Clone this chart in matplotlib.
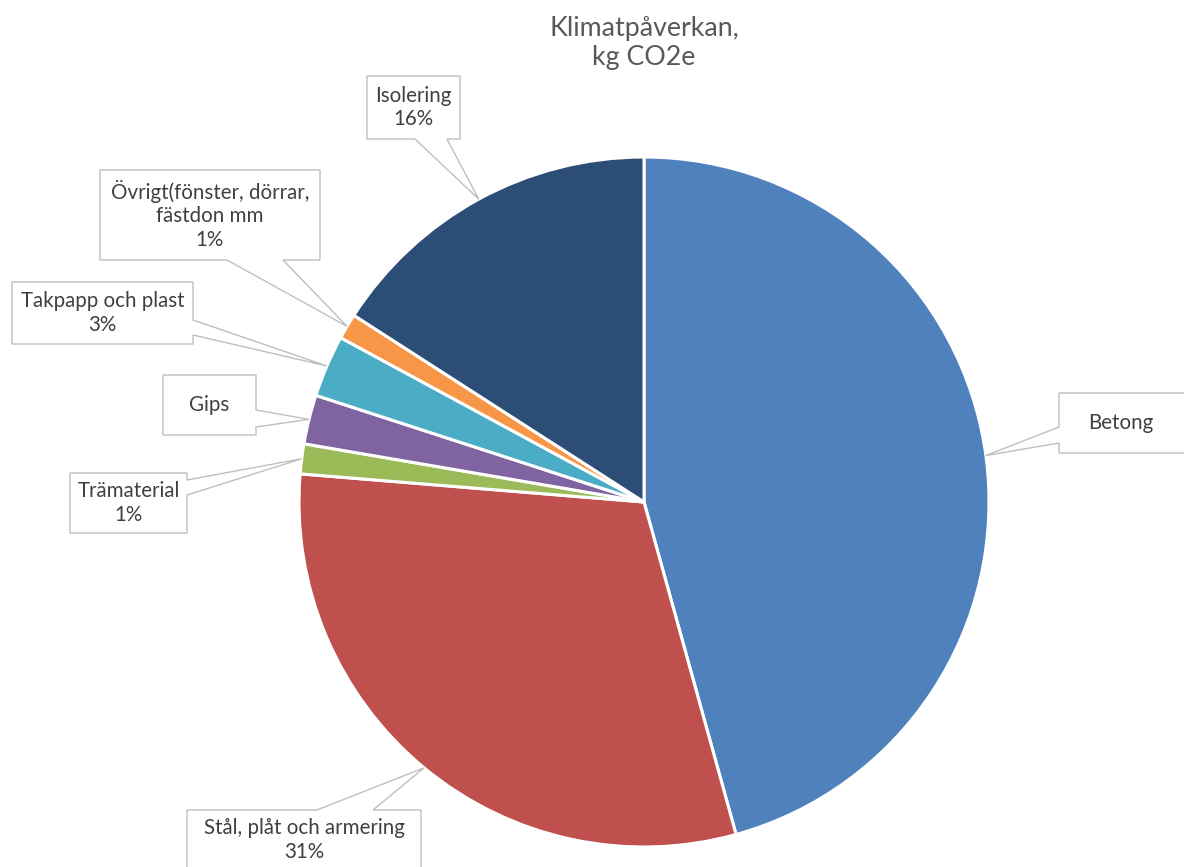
"""Cirkeldiagram över klimatpåverkan per materialgrupp (kg CO2e)."""

import matplotlib

matplotlib.use("Agg")
import matplotlib.pyplot as plt  # noqa: E402
import numpy as np  # noqa: E402
from matplotlib.patches import Polygon  # noqa: E402

plt.rcParams["font.family"] = ["Lato", "DejaVu Sans"]

# data, medurs från klockan tolv
MATERIALS = [
    "Betong",
    "Stål, plåt och armering",
    "Trämaterial",
    "Gips",
    "Takpapp och plast",
    "Övrigt(fönster, dörrar,\nfästdon mm",
    "Isolering",
]
SHARES = [45.7, 30.6, 1.4, 2.3, 2.9, 1.2, 15.9]
SHOW_PERCENT = [False, True, True, False, True, True, True]
COLORS = ["#4F81BD", "#C0504D", "#9BBB59", "#8064A2", "#4BACC6", "#F79646", "#2C4D75"]
TITLE = "Klimatpåverkan,\nkg CO2e"

# layout i pixlar (x0, y0, x1, y1), sida för pekaren och pekarens bas
CX, CY, R = 644.0, 502.0, 345.0
W, H = 1184, 867
BOXES = [
    ((1059, 393, 1240, 453), "left", (427, 443)),
    ((187, 810, 421, 900), "top", (317, 373)),
    ((70, 473, 187, 533), "right", (480, 495)),
    ((163, 375, 256, 435), "right", (410, 427)),
    ((12, 282, 193, 344), "right", (320, 335)),
    ((100, 170, 320, 260), "bottom", (227, 283)),
    ((367, 76, 460, 139), "bottom", (415, 447)),
]
TEXT_POS = [(1121, 423), (304, 840), None, None, None, None, None]


def to_data(px, py):
    return (px - CX) / R, (CY - py) / R


def callout_vertices(box, side, base, tip):
    x0, y0 = to_data(box[0], box[3])
    x1, y1 = to_data(box[2], box[1])
    if side in ("bottom", "top"):
        b_lo, b_hi = sorted(to_data(b, 0)[0] for b in base)
    else:
        b_lo, b_hi = sorted(to_data(0, b)[1] for b in base)
    verts = [(x0, y0)]
    if side == "bottom":
        verts += [(b_lo, y0), tip, (b_hi, y0)]
    verts.append((x1, y0))
    if side == "right":
        verts += [(x1, b_lo), tip, (x1, b_hi)]
    verts.append((x1, y1))
    if side == "top":
        verts += [(b_hi, y1), tip, (b_lo, y1)]
    verts.append((x0, y1))
    if side == "left":
        verts += [(x0, b_hi), tip, (x0, b_lo)]
    return verts


fig = plt.figure(figsize=(W / 100, H / 100), dpi=100)
ax = fig.add_axes([0, 0, 1, 1])

wedges, _ = ax.pie(
    SHARES,
    colors=COLORS,
    startangle=90,
    counterclock=False,
    radius=1.0,
    center=(0, 0),
    wedgeprops={"edgecolor": "white", "linewidth": 2.2},
    frame=True,
)
ax.set_xlim(to_data(0, 0)[0], to_data(W, 0)[0])
ax.set_ylim(to_data(0, H)[1], to_data(0, 0)[1])
ax.axis("off")

for i, wedge in enumerate(wedges):
    mid = np.deg2rad((wedge.theta1 + wedge.theta2) / 2)
    tip = (np.cos(mid), np.sin(mid))
    box, side, base = BOXES[i]
    ax.add_patch(
        Polygon(
            callout_vertices(box, side, base, tip),
            closed=True,
            facecolor="white",
            edgecolor="#BFBFBF",
            linewidth=1.0,
            zorder=3,
        )
    )
    text = MATERIALS[i]
    if SHOW_PERCENT[i]:
        text += f"\n{round(SHARES[i])}%"
    if TEXT_POS[i] is None:
        pos = to_data((box[0] + box[2]) / 2, (box[1] + box[3]) / 2)
    else:
        pos = to_data(*TEXT_POS[i])
    ax.text(
        *pos,
        text,
        ha="center",
        va="center",
        fontsize=14.8,
        color="#404040",
        linespacing=1.22,
        zorder=4,
    )

ax.text(
    *to_data(644, 43),
    TITLE,
    ha="center",
    va="center",
    fontsize=19.3,
    color="#595959",
    linespacing=1.2,
)

fig.savefig("out.png", dpi=100, facecolor="white")
